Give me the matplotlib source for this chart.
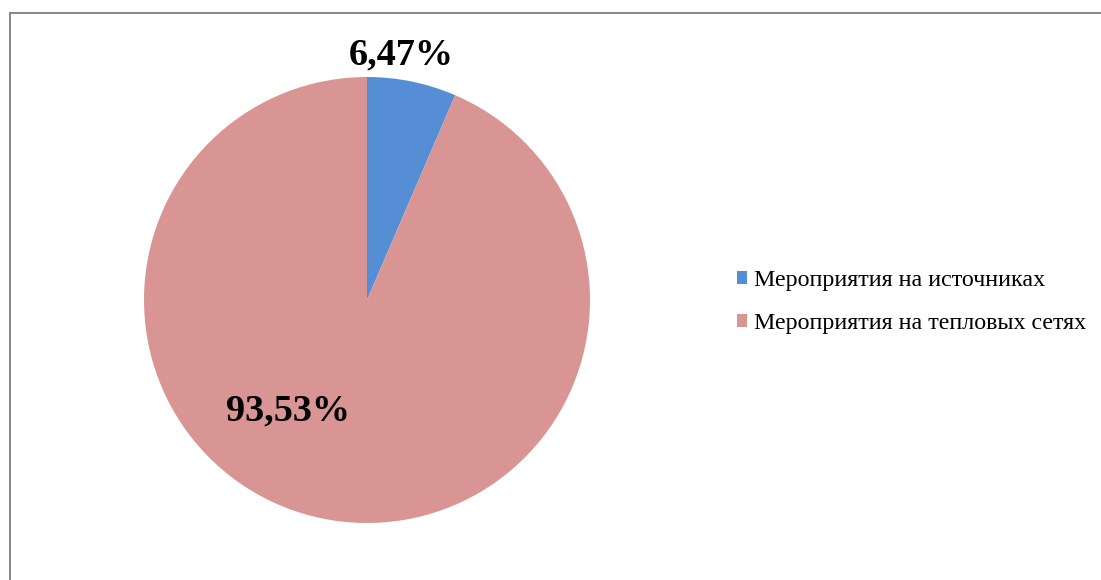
import matplotlib
matplotlib.use("Agg")
import matplotlib.pyplot as plt
from matplotlib.lines import Line2D

categories = ["Мероприятия на источниках", "Мероприятия на тепловых сетях"]
values = [6.47, 93.53]
labels = ["6,47%", "93,53%"]
colors = ["#558ED5", "#D99594"]

plt.rcParams['font.family'] = ['Liberation Serif', 'DejaVu Serif']

W, H = 1101, 580
fig = plt.figure(figsize=(W/100, H/100), dpi=100)
fig.patch.set_facecolor('white')

cx, cy, r = 367, 300, 223
ax = fig.add_axes([(cx - r)/W, (H - cy - r)/H, 2*r/W, 2*r/H])
wedges, _ = ax.pie(values, colors=colors, startangle=90, counterclock=False,
                   radius=1.0, wedgeprops=dict(linewidth=0))
ax.set_xlim(-1, 1)
ax.set_ylim(-1, 1)
ax.set_aspect('equal')
ax.axis('off')

ax.text(0.155, 1.100, labels[0], ha='center', va='center', fontsize=27.5,
        fontweight='bold', color='black', clip_on=False)
ax.text(-0.355, -0.497, labels[1], ha='center', va='center', fontsize=27.5,
        fontweight='bold', color='black')

leg = fig.legend(wedges, categories, loc='center left',
                 bbox_to_anchor=(737/W, 1 - 302/H), frameon=False,
                 fontsize=17.3, handlelength=0.42, handleheight=0.42,
                 handletextpad=0.3, labelspacing=0.92, borderpad=0, borderaxespad=0)

# outer border (chart area frame)
fig.add_artist(Line2D([9.5/W, 9.5/W], [0, 1 - 12.5/H], color='#878787', lw=1.4,
                      transform=fig.transFigure))
fig.add_artist(Line2D([9.5/W, 1], [1 - 12.5/H, 1 - 12.5/H], color='#878787', lw=1.4,
                      transform=fig.transFigure))

fig.savefig("out.png", dpi=100, facecolor='white')
